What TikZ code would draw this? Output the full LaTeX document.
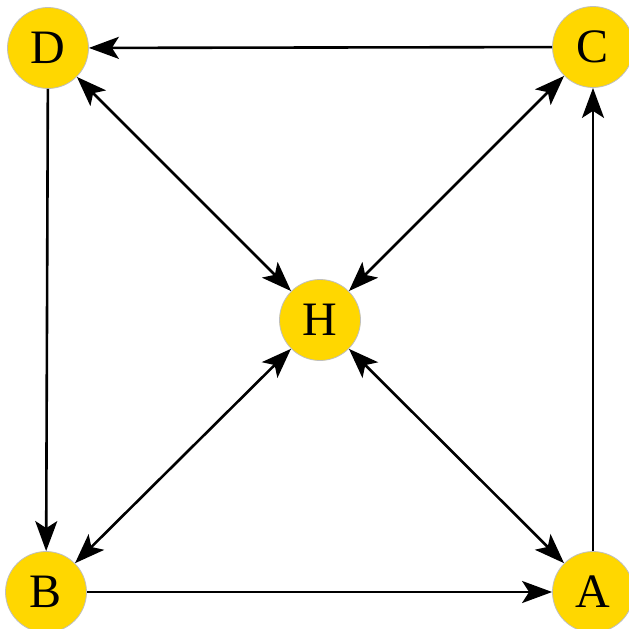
\documentclass[tikz,border=0pt]{standalone}
\usepackage{fontspec}
\setmainfont{Liberation Serif}
\usetikzlibrary{arrows.meta}

\begin{document}
\begin{tikzpicture}[x=1pt, y=1pt,
		spitze/.tip={Stealth[length=30pt, width=22pt, inset=7pt]},   %Pfeilspitzen
		knoten/.style={circle, fill={rgb,255:red,255;green,215;blue,0}, draw=gray!50, line width=0.8pt, minimum size=81pt, inner sep=0pt, font=\fontsize{48}{52}\selectfont},
		kante/.style={line width=2.6pt, -spitze},
		doppel/.style={line width=2.6pt, spitze-spitze}]
		%Bildbereich
		\useasboundingbox (0,0) rectangle (629,-629);
		% Knoten zeichnen
		\node[knoten] (D) at (48,-48) {D};
		\node[knoten] (C) at (593,-47) {C};
		\node[knoten] (H) at (320,-320) {H};
		\node[knoten] (B) at (46,-592) {B};
		\node[knoten] (A) at (593,-592) {A};
		% Kanten zeichnen
		\draw[kante] (C) -- (D);
		\draw[kante] (D) -- (B);
		\draw[kante] (B) -- (A);
		\draw[kante] (A) -- (C);
		\foreach \k in {D,C,B,A} \draw[doppel] (\k) -- (H);
	\end{tikzpicture}
\end{document}
